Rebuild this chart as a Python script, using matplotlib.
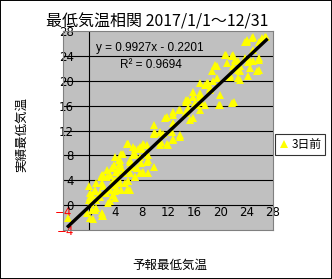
import matplotlib
matplotlib.use("Agg")
import matplotlib.pyplot as plt
from matplotlib.patches import Rectangle

plt.rcParams['font.family'] = ['Noto Sans CJK JP', 'DejaVu Sans']

# =========================
# DATA (forecast, actual)
# =========================

forecast = [
    # low temperatures
    -3.2, 0.1, 1.9, 1.1, -0.1, 0.4, -0.1, 0.9, 1.6, 2.9, 3.9, 3.9, 5.95, 5.95,
    4.7, 3.9, 2.65, 1.9, 7.0, 8.0, 7.2, 5.95, 4.4, 4.7, 3.7, 9.9, 8.75, 9.0,
    7.7, 6.7, 5.2, 8.75, 7.7, 6.7, 5.95, 10.8, 12.8, 13.8, 12.6, 11.3, 9.87,
    0.1, 1.1, 1.6, 1.9, 2.15, 2.65, 3.4, 3.9, 4.7, 4.9, 6.2, 7.7, 5.7, 2.4,
    3.2, 3.9, 4.4, 0.4, 1.9, -0.4,
    0.06, 0.3, 0.8, 0.6, 2.1, 0.8, 1.1, 1.85, 2.1, 2.6, 3.1, 3.6, 4.1, 3.6,
    3.1, 4.1, 4.9, 4.6, 5.1, 5.4, 4.9, 6.2, 5.9, 6.2, 6.7, 6.9, 6.2, 5.9,
    7.4, 8.4, 6.9, 8.2, 7.9, 8.95, 8.95,
    # middle
    5.7, 7.0, 8.2, 9.8, 9.8, 10.8, 11.8, 12.8, 11.8, 12.8, 13.6, 14.8, 15.85,
    16.9, 15.1, 15.85, 16.9, 17.6, 11.5, 12.8, 13.8, 14.8, 15.85, 16.9, 18.1,
    16.9, 18.4, 19.7, 21.7, 19.9,
    8.0, 10.0, 11.0, 12.05, 13.8, 12.8, 14.8, 15.35, 17.6, 16.9, 16.1, 14.8,
    # high temperatures
    20.9, 21.9, 21.9, 23.0, 24.0, 25.0, 26.8, 25.5, 25.0, 23.7, 23.0, 21.4,
    19.4, 19.4, 16.4, 18.7, 18.9, 19.9, 20.7, 21.7, 22.7, 23.0, 23.7, 24.75,
    25.8, 25.8, 25.8, 24.5, 24.2, 22.7, 21.4, 18.4,
    17.9, 17.1, 19.2, 21.0, 22.0, 22.7, 24.0, 25.0, 25.8, 26.3, 27.0, 24.2,
    24.5, 22.2, 15.1,
]

actual = [
    # low temperatures
    -2.0, -2.0, -1.75, -0.5, 0.8, 1.6, 3.0, 2.2, 1.35, 0.3, 1.1, 2.2, 2.4, 3.8,
    3.5, 4.0, 4.6, 4.8, 4.6, 5.1, 5.9, 5.6, 5.6, 6.7, 6.4, 6.2, 7.0, 8.1,
    7.8, 8.1, 8.3, 9.7, 9.4, 9.4, 9.9, 9.7, 10.5, 11.0, 11.8, 11.5, 11.55,
    1.35, 0.8, 1.9, 3.5, 4.8, 5.6, 5.9, 7.8, 7.3, 8.3, 7.0, 5.1, 2.4, 1.9,
    2.4, 3.2, 4.3, -0.8, -1.3, -1.3,
    1.9, 0.3, -0.8, -2.2, -1.7, 2.5, 3.6, 4.6, 3.0, 1.9, 0.6, 1.6, 2.7, 3.8,
    4.8, 5.4, 6.2, 7.3, 5.1, 3.5, 2.4, 2.4, 3.8, 5.1, 6.2, 4.6, 7.3, 9.9,
    9.1, 9.6, 8.3, 5.4, 6.7, 7.3, 5.1,
    # middle
    9.9, 9.1, 9.9, 12.9, 11.5, 11.8, 14.2, 13.2, 9.9, 10.7, 15.3, 16.9, 17.4,
    18.0, 15.6, 14.0, 15.3, 16.1, 14.0, 14.5, 15.3, 14.8, 18.2, 19.6, 19.6,
    17.7, 18.5, 16.1, 16.4, 17.7,
    9.1, 11.6, 10.2, 9.7, 11.3, 15.0, 16.6, 13.7, 19.3, 17.4, 16.4, 15.0,
    # high temperatures
    24.1, 24.1, 22.3, 22.3, 26.3, 27.1, 27.1, 21.5, 23.1, 23.6, 20.1, 20.6,
    20.4, 22.3, 16.1, 21.5, 19.9, 16.1, 24.2, 23.9, 23.1, 21.5, 26.3, 26.9,
    26.3, 23.7, 21.8, 23.1, 20.7, 20.4, 21.0, 18.8,
    19.6, 16.6, 22.6, 22.8, 16.6, 21.8, 26.6, 24.9, 23.3, 26.8, 27.1, 23.0,
    22.0, 23.3, 16.9,
]

slope = 0.9927
intercept = -0.2201

ticks = [-4, 0, 4, 8, 12, 16, 20, 24, 28]

# =========================
# FIGURE
# =========================

fig = plt.figure(figsize=(3.32, 2.79), dpi=100)
fig.patch.set_facecolor("white")
fig.patches.append(Rectangle((0, 0), 1, 1, transform=fig.transFigure,
                             fill=False, edgecolor="black", linewidth=1.4))

ax = fig.add_axes([63/332, 49/279, 210/332, 199/279])
ax.set_facecolor("#c0c0c0")
for s in ax.spines.values():
    s.set_color("#808080")
    s.set_linewidth(0.8)

ax.set_xlim(-4, 28)
ax.set_ylim(-4, 28)

for t in ticks[1:-1]:
    ax.axhline(t, color="black", linewidth=0.8, zorder=1)
ax.axvline(0, color="black", linewidth=0.8, zorder=1)

ax.plot(forecast, actual, linestyle="none", marker="^", markersize=6,
        color="#ffff00", markeredgewidth=0, zorder=2, label="3日前")

x0 = min(forecast)
x1 = max(forecast)
ax.plot([x0, x1], [slope*x0 + intercept, slope*x1 + intercept],
        color="black", linewidth=2.4, zorder=3)

# tick labels (negatives in red, like Excel)
ax.set_xticks(ticks)
ax.set_yticks(ticks)
ax.tick_params(axis="both", length=0, labelsize=8.5)
ax.tick_params(axis="x", pad=-17.5)
ax.tick_params(axis="y", pad=-8)
for lab, t in zip(ax.get_xticklabels(), ticks):
    lab.set_family("DejaVu Sans")
    if t < 0:
        lab.set_color("red")
for lab, t in zip(ax.get_yticklabels(), ticks):
    lab.set_family("DejaVu Sans")
    if t < 0:
        lab.set_color("red")

ax.text(0.414, 0.915, "y = 0.9927x - 0.2201", transform=ax.transAxes,
        ha="center", va="center", fontsize=8.5, family="Liberation Sans")
ax.text(0.419, 0.829, "R² = 0.9694", transform=ax.transAxes,
        ha="center", va="center", fontsize=8.5, family="Liberation Sans")

fig.text(157/332, 1 - 22/279, "最低気温相関 2017/1/1～12/31",
         ha="center", va="center", fontsize=11.5)
fig.text(22/332, 1 - 134/279, "実績最低気温", rotation=90,
         ha="center", va="center", fontsize=9)
fig.text(170/332, 1 - 265/279, "予報最低気温",
         ha="center", va="center", fontsize=9)

leg = ax.legend(loc="center left", bbox_to_anchor=(1.0, 0.43),
                frameon=True, fancybox=False, fontsize=8.5,
                handlelength=0.8, handletextpad=0.2, borderpad=0.35,
                borderaxespad=0.2)
leg.get_frame().set_edgecolor("black")
leg.get_frame().set_linewidth(0.8)

fig.savefig("out.png", dpi=100)
